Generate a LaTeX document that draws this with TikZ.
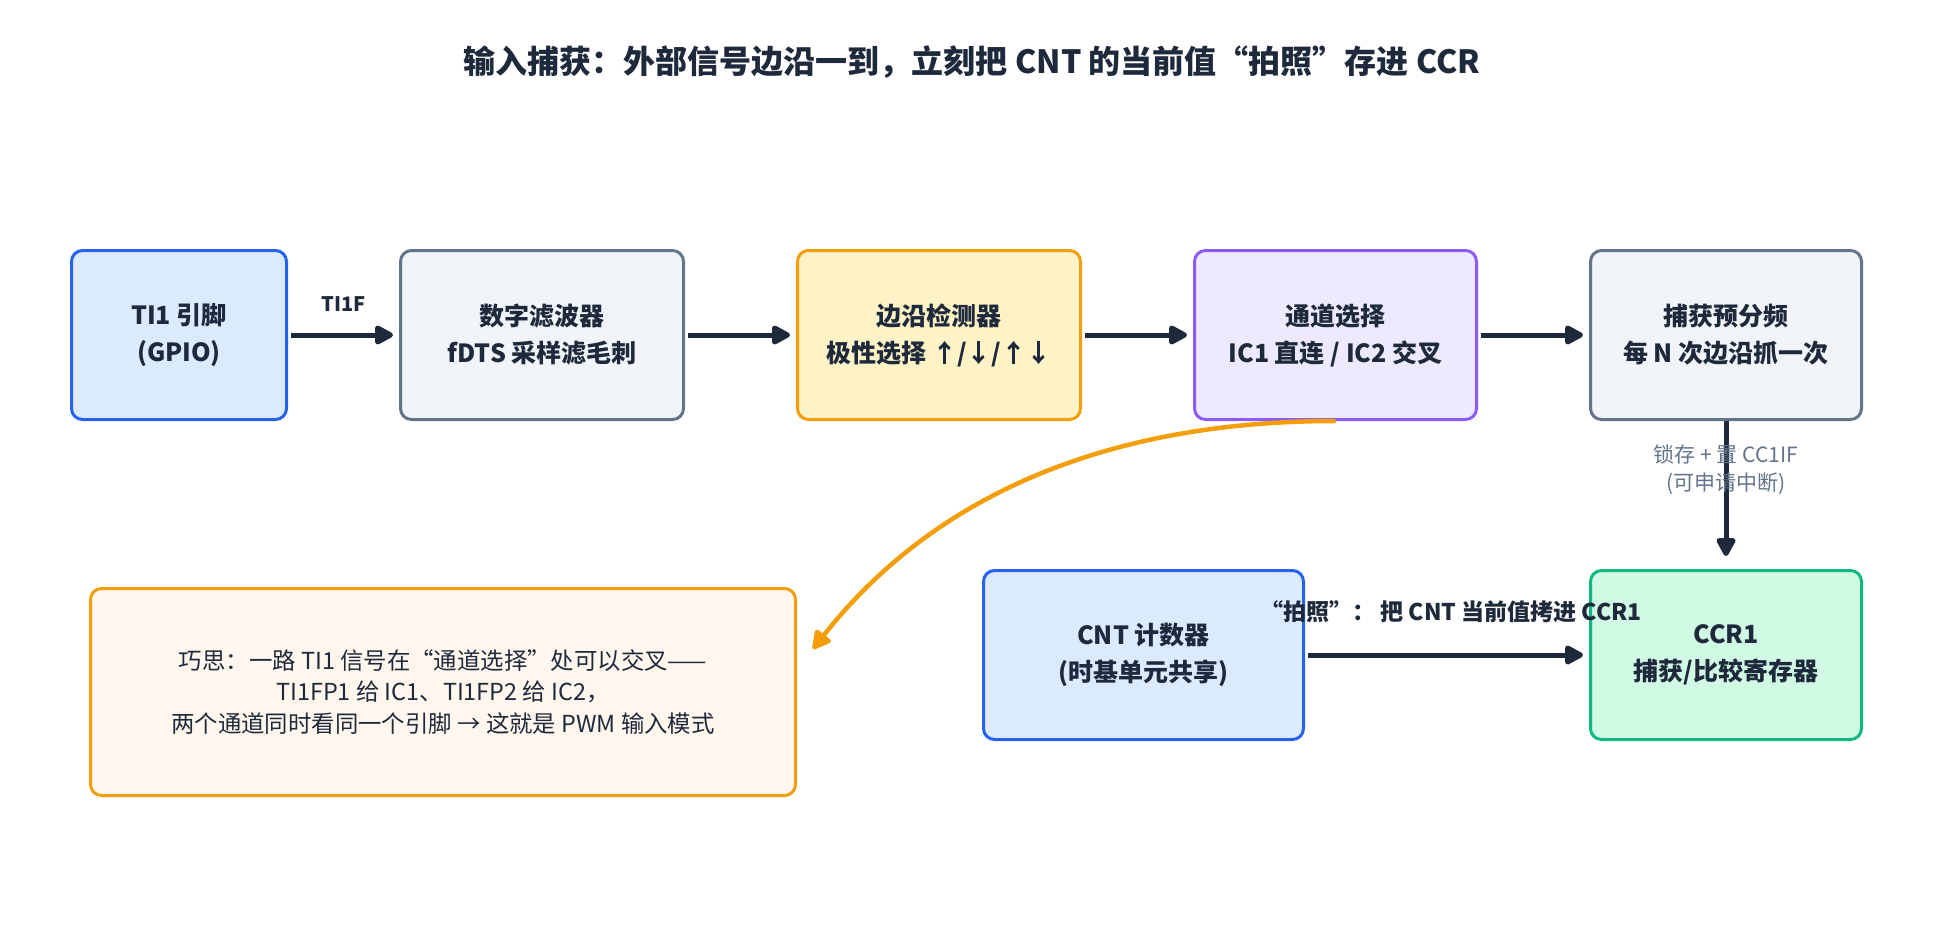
\documentclass[tikz,border=0pt]{standalone}
\usepackage{fontspec}
\setmainfont{Noto Sans CJK SC}
\usepackage{xcolor}
\usepackage{tikz}
\usetikzlibrary{positioning,arrows.meta}
\definecolor{ink}{HTML}{1E293B}
\definecolor{mute}{HTML}{64748B}
\definecolor{bluefill}{HTML}{DBEAFE}
\definecolor{blueline}{HTML}{2563EB}
\definecolor{greyfill}{HTML}{F1F5F9}
\definecolor{greyline}{HTML}{64748B}
\definecolor{amberfill}{HTML}{FEF3C7}
\definecolor{amberline}{HTML}{F59E0B}
\definecolor{violetfill}{HTML}{EDE9FE}
\definecolor{violetline}{HTML}{8B5CF6}
\definecolor{greenfill}{HTML}{D1FAE5}
\definecolor{greenline}{HTML}{10B981}
\definecolor{hintfill}{HTML}{FFF7ED}
\tikzstyle{block} = [rectangle, rounded corners=11pt, line width=3pt, minimum height=169pt, align=center, font=\fontsize{25}{37}\selectfont\bfseries]
\tikzstyle{arrow} = [-{Triangle[length=21pt,width=21pt,round]}, line width=5pt, draw=ink]

\begin{document}
\begin{tikzpicture}[x=1pt, y=-1pt, node distance=111pt, every node/.style={text=ink}]
		\useasboundingbox (0,0) rectangle (1940,942);

		\node (title) at (972,62) [font=\fontsize{32}{38}\selectfont\bfseries] {输入捕获：外部信号边沿一到，立刻把 CNT 的当前值“拍照”存进 CCR};

		\node (pin) at (179,335) [block, fill=bluefill, draw=blueline, minimum width=215pt] {TI1 引脚\\(GPIO)};
		\node (filter) [block, fill=greyfill, draw=greyline, minimum width=283pt, right=of pin] {数字滤波器\\fDTS 采样滤毛刺};
		\node (edge) [block, fill=amberfill, draw=amberline, minimum width=283pt, right=of filter] {边沿检测器\\极性选择 ↑/↓/↑↓};
		\node (chsel) [block, fill=violetfill, draw=violetline, minimum width=282pt, right=of edge] {通道选择\\IC1 直连 / IC2 交叉};
		\node (presc) [block, fill=greyfill, draw=greyline, minimum width=271pt, right=of chsel] {捕获预分频\\每 N 次边沿抓一次};
		\node (ccr) [block, fill=greenfill, draw=greenline, minimum width=271pt, below=148pt of presc] {CCR1\\捕获/比较寄存器};
		\node (cnt) [block, fill=bluefill, draw=blueline, minimum width=320pt, left=284pt of ccr] {CNT 计数器\\(时基单元共享)};
		\node (hint) at (443,692) [rectangle, rounded corners=11pt, line width=3pt, fill=hintfill, draw=amberline, minimum width=705pt, minimum height=207pt, align=center, font=\fontsize{23.4}{31.5}\selectfont] {巧思：一路 TI1 信号在“通道选择”处可以交叉——\\TI1FP1 给 IC1、TI1FP2 给 IC2，\\两个通道同时看同一个引脚 → 这就是 PWM 输入模式};
		\coordinate (hintin) at (813,649);

		\draw [arrow, shorten <=3pt, shorten >=6pt] (pin) -- node[midway, yshift=31pt, font=\fontsize{20}{24}\selectfont\bfseries] {TI1F} (filter);
		\draw [arrow, shorten <=3pt, shorten >=6pt] (filter) -- (edge);
		\draw [arrow, shorten <=3pt, shorten >=6pt] (edge) -- (chsel);
		\draw [arrow, shorten <=3pt, shorten >=6pt] (chsel) -- (presc);
		\draw [arrow, line width=4.5pt, draw=amberline] (chsel.south) .. controls (1100,421) and (930,500) .. (hintin);
		\draw [arrow, shorten >=13pt] (presc) -- node[pos=0.33, text=mute, align=center, font=\fontsize{21}{28.5}\selectfont] {锁存 + 置 CC1IF\\(可申请中断)} (ccr);
		\draw [arrow, shorten <=3pt, shorten >=6pt] (cnt) -- node[midway, xshift=4pt, yshift=43pt, font=\fontsize{23}{28}\selectfont\bfseries] {“拍照”： 把 CNT 当前值拷进 CCR1} (ccr);
	\end{tikzpicture}
\end{document}
